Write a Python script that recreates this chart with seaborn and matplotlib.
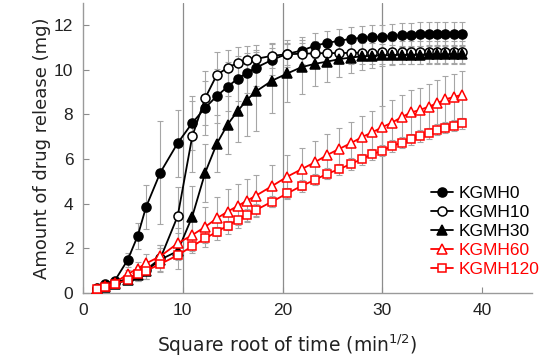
import numpy as np
import pandas as pd
import seaborn as sns
import matplotlib
matplotlib.use("Agg")
import matplotlib.pyplot as plt

# square root of sampling time (min^1/2)
sqrt_time = [1.41, 2.24, 3.16, 4.47, 5.48, 6.32, 7.75, 9.49, 10.95, 12.25,
             13.42, 14.49, 15.49, 16.43, 17.32, 18.97, 20.49, 21.91, 23.24, 24.49,
             25.69, 26.83, 27.93, 28.98, 30.00, 30.98, 31.94, 32.86, 33.76, 34.64,
             35.50, 36.33, 37.15, 37.95]

kgmh0 = [0.22, 0.40, 0.54, 1.48, 2.56, 3.86, 5.40, 6.72, 7.62, 8.30,
         8.83, 9.24, 9.60, 9.87, 10.09, 10.45, 10.72, 10.86, 11.08, 11.21,
         11.30, 11.39, 11.43, 11.48, 11.48, 11.52, 11.56, 11.57, 11.60, 11.60,
         11.60, 11.60, 11.60, 11.60]
kgmh0_err = [0.05, 0.10, 0.15, 0.30, 0.60, 1.00, 2.30, 1.50, 1.20, 1.20,
             1.20, 1.10, 1.00, 0.90, 0.80, 0.70, 0.60, 0.60, 0.55, 0.55,
             0.55, 0.55, 0.55, 0.55, 0.55, 0.55, 0.55, 0.55, 0.55, 0.55,
             0.55, 0.55, 0.55, 0.55]

kgmh10 = [0.20, 0.30, 0.45, 0.65, 0.85, 1.05, 1.55, 3.45, 7.02, 8.74,
          9.78, 10.09, 10.31, 10.45, 10.49, 10.63, 10.70, 10.72, 10.74, 10.75,
          10.75, 10.76, 10.77, 10.77, 10.78, 10.78, 10.78, 10.78, 10.78, 10.78,
          10.78, 10.78, 10.78, 10.78]
kgmh10_err = [0.05, 0.08, 0.10, 0.20, 0.30, 0.40, 0.60, 1.30, 1.60, 1.20,
              1.00, 0.80, 0.70, 0.60, 0.60, 0.55, 0.50, 0.50, 0.50, 0.50,
              0.50, 0.50, 0.50, 0.50, 0.50, 0.50, 0.50, 0.50, 0.50, 0.50,
              0.50, 0.50, 0.50, 0.50]

kgmh30 = [0.20, 0.28, 0.40, 0.60, 0.80, 1.00, 1.50, 1.88, 3.43, 5.40,
          6.70, 7.55, 8.15, 8.65, 9.03, 9.52, 9.84, 10.12, 10.27, 10.37,
          10.48, 10.55, 10.60, 10.63, 10.65, 10.66, 10.67, 10.68, 10.68, 10.69,
          10.69, 10.70, 10.70, 10.70]
kgmh30_err = [0.05, 0.08, 0.10, 0.15, 0.25, 0.35, 0.50, 0.80, 1.35, 1.30,
              1.26, 1.30, 1.40, 1.60, 1.75, 1.45, 1.30, 1.20, 1.00, 0.90,
              0.80, 0.70, 0.60, 0.55, 0.50, 0.45, 0.40, 0.40, 0.40, 0.40,
              0.40, 0.40, 0.40, 0.40]

kgmh60 = [0.20, 0.30, 0.45, 0.85, 1.10, 1.33, 1.65, 2.23, 2.60, 2.97,
          3.35, 3.65, 3.90, 4.14, 4.36, 4.80, 5.22, 5.55, 5.86, 6.19,
          6.46, 6.71, 6.98, 7.20, 7.43, 7.64, 7.88, 8.09, 8.20, 8.35,
          8.50, 8.68, 8.78, 8.88]
kgmh60_err = [0.05, 0.08, 0.10, 0.20, 0.30, 0.40, 0.50, 0.70, 0.80, 0.90,
              0.95, 1.00, 1.00, 0.95, 0.95, 0.95, 0.95, 0.95, 0.95, 0.95,
              0.95, 0.95, 0.95, 0.95, 0.95, 1.00, 1.00, 1.00, 1.00, 1.00,
              1.05, 1.05, 1.05, 1.05]

kgmh120 = [0.18, 0.28, 0.40, 0.60, 0.85, 1.00, 1.30, 1.70, 2.10, 2.45,
           2.75, 3.02, 3.27, 3.50, 3.72, 4.10, 4.47, 4.80, 5.07, 5.35,
           5.55, 5.78, 6.00, 6.22, 6.38, 6.59, 6.74, 6.89, 7.04, 7.16,
           7.31, 7.41, 7.49, 7.61]
kgmh120_err = [0.05, 0.05, 0.08, 0.10, 0.10, 0.15, 0.15, 0.20, 0.20, 0.20,
               0.20, 0.20, 0.20, 0.25, 0.25, 0.25, 0.25, 0.25, 0.25, 0.25,
               0.25, 0.25, 0.25, 0.25, 0.25, 0.25, 0.25, 0.25, 0.25, 0.25,
               0.25, 0.25, 0.25, 0.25]

series_names = ["KGMH0", "KGMH10", "KGMH30", "KGMH60", "KGMH120"]
series_values = [kgmh0, kgmh10, kgmh30, kgmh60, kgmh120]
series_errors = [kgmh0_err, kgmh10_err, kgmh30_err, kgmh60_err, kgmh120_err]

x_ticks = [0, 10, 20, 30, 40]
y_ticks = [0, 2, 4, 6, 8, 10, 12]

# marker styles: (marker, line colour, face colour)
styles = {
    "KGMH0": ("o", "black", "black"),
    "KGMH10": ("o", "black", "white"),
    "KGMH30": ("^", "black", "black"),
    "KGMH60": ("^", "#ff0000", "white"),
    "KGMH120": ("s", "#ff0000", "white"),
}

sns.set_style("ticks")
plt.rcParams["font.family"] = ["Liberation Sans", "DejaVu Sans"]

fig, ax = plt.subplots(figsize=(5.5, 3.57), dpi=100)
fig.subplots_adjust(left=0.151, right=0.967, top=0.992, bottom=0.179)

# vertical grid lines at inner x ticks
for xv in x_ticks[1:-1]:
    ax.axvline(xv, color="#8c8c8c", lw=0.9, zorder=0)

# error bars first so the lines sit on top
for name, vals, errs in zip(series_names, series_values, series_errors):
    ax.errorbar(sqrt_time, vals, yerr=errs, fmt="none", ecolor="#a6a6a6",
                elinewidth=0.8, capsize=2.2, capthick=0.8, zorder=1)

for name, vals in zip(series_names, series_values):
    mk, col, face = styles[name]
    df = pd.DataFrame({"x": sqrt_time, "y": vals})
    sns.lineplot(data=df, x="x", y="y", ax=ax, color=col, lw=1.3,
                 marker=mk, markersize=6.5 if mk != "s" else 6,
                 markerfacecolor=face, markeredgecolor=col, markeredgewidth=1.1,
                 label=name, zorder=3)

ax.set_xlim(0, 45)
ax.set_ylim(0, 13)
ax.set_xticks(x_ticks)
ax.set_yticks(y_ticks)
ax.tick_params(direction="in", length=4, width=0.8, color="#8c8c8c",
               labelsize=12.5, labelcolor="#222222", pad=7)
for side in ["top", "right"]:
    ax.spines[side].set_visible(False)
for side in ["left", "bottom"]:
    ax.spines[side].set_color("#9a9a9a")
    ax.spines[side].set_linewidth(1.0)

ax.set_xlabel("Square root of time (min$^{1/2}$)", fontsize=13.5,
              family="DejaVu Sans", color="#222222")
ax.xaxis.set_label_coords(0.455, -0.135)
ax.set_ylabel("Amount of drug release (mg)", fontsize=13,
              family="DejaVu Sans", color="#222222", labelpad=2)

leg = ax.legend(loc="lower right", bbox_to_anchor=(1.04, 0.02), frameon=False,
                fontsize=12.5, handlelength=1.3, handletextpad=0.3,
                labelspacing=0.22, borderaxespad=0.2)
for txt, name in zip(leg.get_texts(), series_names):
    txt.set_color(styles[name][1])

fig.savefig("out.png", dpi=100)
